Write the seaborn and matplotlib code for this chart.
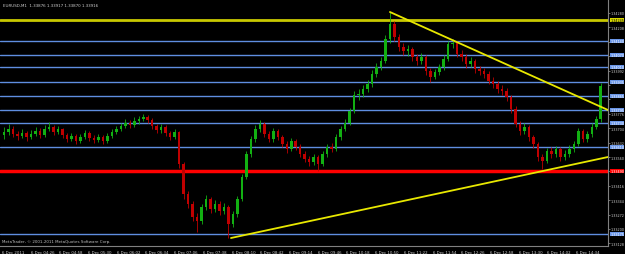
import numpy as np
import matplotlib
matplotlib.use("Agg")
import matplotlib.pyplot as plt
import matplotlib.transforms as mtransforms
import seaborn as sns

# EURUSD 6 Dec 2011, bars of 5 minutes
bar_minutes = 5
first_open = 1.33670
closes = [1.33685, 1.33700, 1.33675, 1.33665, 1.33680, 1.33660, 1.33675, 1.33690, 1.33670, 1.33700,
          1.33710, 1.33685, 1.33700, 1.33670, 1.33650, 1.33665, 1.33640, 1.33660, 1.33680, 1.33655,
          1.33645, 1.33660, 1.33640, 1.33665, 1.33685, 1.33700, 1.33715, 1.33730, 1.33720, 1.33740,
          1.33750, 1.33760, 1.33745, 1.33715, 1.33695, 1.33710, 1.33680, 1.33660, 1.33685, 1.33525,
          1.33375, 1.33325, 1.33260, 1.33240, 1.33310, 1.33350, 1.33300, 1.33325, 1.33290, 1.33310,
          1.33225, 1.33275, 1.33350, 1.33460, 1.33575, 1.33650, 1.33700, 1.33725, 1.33675, 1.33650,
          1.33690, 1.33660, 1.33625, 1.33600, 1.33640, 1.33610, 1.33575, 1.33550, 1.33535, 1.33560,
          1.33525, 1.33575, 1.33610, 1.33600, 1.33660, 1.33700, 1.33730, 1.33790, 1.33870, 1.33875,
          1.33900, 1.33925, 1.33975, 1.34010, 1.34040, 1.34150, 1.34225, 1.34160, 1.34110, 1.34090,
          1.34100, 1.34060, 1.34040, 1.34060, 1.33990, 1.33960, 1.33985, 1.34010, 1.34050, 1.34125,
          1.34130, 1.34075, 1.34060, 1.34025, 1.34040, 1.34000, 1.33990, 1.33975, 1.33940, 1.33925,
          1.33900, 1.33890, 1.33860, 1.33800, 1.33725, 1.33690, 1.33710, 1.33660, 1.33625, 1.33560,
          1.33540, 1.33590, 1.33575, 1.33600, 1.33560, 1.33575, 1.33600, 1.33625, 1.33690, 1.33650,
          1.33675, 1.33710, 1.33750, 1.33916]
highs = [1.33710, 1.33725, 1.33715, 1.33690, 1.33700, 1.33690, 1.33695, 1.33710, 1.33705, 1.33720,
         1.33735, 1.33720, 1.33715, 1.33705, 1.33680, 1.33680, 1.33675, 1.33675, 1.33695, 1.33690,
         1.33670, 1.33675, 1.33670, 1.33680, 1.33700, 1.33715, 1.33730, 1.33750, 1.33745, 1.33760,
         1.33765, 1.33775, 1.33770, 1.33755, 1.33725, 1.33725, 1.33720, 1.33690, 1.33700, 1.33690,
         1.33535, 1.33390, 1.33340, 1.33280, 1.33325, 1.33370, 1.33360, 1.33345, 1.33340, 1.33330,
         1.33320, 1.33290, 1.33365, 1.33475, 1.33590, 1.33665, 1.33720, 1.33745, 1.33735, 1.33690,
         1.33705, 1.33700, 1.33670, 1.33640, 1.33655, 1.33650, 1.33625, 1.33590, 1.33565, 1.33575,
         1.33570, 1.33590, 1.33625, 1.33630, 1.33675, 1.33715, 1.33750, 1.33805, 1.33890, 1.33900,
         1.33920, 1.33945, 1.33995, 1.34030, 1.34060, 1.34170, 1.34285, 1.34240, 1.34175, 1.34130,
         1.34120, 1.34110, 1.34075, 1.34080, 1.34070, 1.34005, 1.34000, 1.34025, 1.34070, 1.34140,
         1.34150, 1.34140, 1.34095, 1.34075, 1.34060, 1.34050, 1.34015, 1.34005, 1.33990, 1.33960,
         1.33940, 1.33920, 1.33905, 1.33870, 1.33815, 1.33740, 1.33730, 1.33720, 1.33670, 1.33635,
         1.33575, 1.33605, 1.33610, 1.33615, 1.33610, 1.33595, 1.33620, 1.33640, 1.33705, 1.33700,
         1.33690, 1.33730, 1.33765, 1.33930]
lows = [1.33650, 1.33670, 1.33660, 1.33645, 1.33655, 1.33640, 1.33650, 1.33665, 1.33655, 1.33660,
        1.33690, 1.33670, 1.33675, 1.33655, 1.33635, 1.33640, 1.33625, 1.33630, 1.33650, 1.33640,
        1.33630, 1.33635, 1.33625, 1.33630, 1.33655, 1.33675, 1.33690, 1.33705, 1.33705, 1.33710,
        1.33725, 1.33740, 1.33730, 1.33700, 1.33680, 1.33680, 1.33665, 1.33645, 1.33650, 1.33505,
        1.33350, 1.33305, 1.33240, 1.33185, 1.33225, 1.33295, 1.33280, 1.33285, 1.33270, 1.33275,
        1.33155, 1.33210, 1.33260, 1.33340, 1.33450, 1.33560, 1.33635, 1.33685, 1.33660, 1.33635,
        1.33635, 1.33645, 1.33610, 1.33580, 1.33590, 1.33595, 1.33560, 1.33535, 1.33515, 1.33520,
        1.33490, 1.33515, 1.33560, 1.33585, 1.33590, 1.33645, 1.33690, 1.33720, 1.33780, 1.33845,
        1.33860, 1.33885, 1.33910, 1.33960, 1.33995, 1.34030, 1.34130, 1.34140, 1.34090, 1.34070,
        1.34065, 1.34040, 1.34020, 1.34025, 1.33970, 1.33935, 1.33950, 1.33970, 1.33995, 1.34040,
        1.34105, 1.34060, 1.34040, 1.34005, 1.34010, 1.33980, 1.33970, 1.33955, 1.33925, 1.33905,
        1.33880, 1.33870, 1.33840, 1.33780, 1.33710, 1.33670, 1.33675, 1.33640, 1.33605, 1.33540,
        1.33500, 1.33530, 1.33555, 1.33560, 1.33540, 1.33545, 1.33560, 1.33585, 1.33615, 1.33635,
        1.33635, 1.33660, 1.33700, 1.33735]

# horizontal levels drawn on the chart
yellow_level = 1.34245
blue_levels = [1.34140, 1.34070, 1.34010, 1.33935, 1.33865, 1.33795, 1.33730, 1.33610, 1.33175]
red_level = 1.33490

# trend lines (minutes from 03:54, price)
trend_down_t = [432.5, 675.6]
trend_down_p = [1.34285, 1.33795]
trend_up_t = [255.3, 675.6]
trend_up_p = [1.33155, 1.33560]

# axis labels
x_tick_minutes = list(range(0, 641, 32))
x_tick_labels = ["6 Dec 2011", "6 Dec 04:26", "6 Dec 04:58", "6 Dec 05:30", "6 Dec 06:02",
                 "6 Dec 06:34", "6 Dec 07:06", "6 Dec 07:38", "6 Dec 08:10", "6 Dec 08:42",
                 "6 Dec 09:14", "6 Dec 09:46", "6 Dec 10:18", "6 Dec 10:50", "6 Dec 11:22",
                 "6 Dec 11:54", "6 Dec 12:26", "6 Dec 12:58", "6 Dec 13:30", "6 Dec 14:02",
                 "6 Dec 14:34"]
price_ticks = [1.34280, 1.34208, 1.34136, 1.34064, 1.33992, 1.33920, 1.33848, 1.33776, 1.33704,
               1.33632, 1.33560, 1.33488, 1.33416, 1.33344, 1.33272, 1.33200, 1.33128]

sns.set_theme(style="dark", rc={"axes.facecolor": "black", "figure.facecolor": "black",
                                "axes.edgecolor": "#808080"})

fig = plt.figure(figsize=(6.25, 2.55), dpi=100)
ax = fig.add_axes([0, 8 / 255, 608 / 625, 247 / 255])
ax.set_facecolor("black")

closes = np.array(closes)
highs = np.array(highs)
lows = np.array(lows)
opens = np.concatenate([[first_open], closes[:-1]])
times = np.arange(len(closes)) * bar_minutes + bar_minutes / 2

up = closes >= opens
colors = np.where(up, "#12b012", "#c00000")
body_lo = np.minimum(opens, closes)
body_h = np.maximum(np.abs(closes - opens), 0.00002)

# levels first, candles on top
ax.axhline(yellow_level, color="#c8c800", lw=2, zorder=1)
for lv in blue_levels:
    ax.axhline(lv, color="#5f8ee0", lw=1, zorder=1)
ax.axhline(red_level, color="#ff0000", lw=2.5, zorder=1)

ax.vlines(times, lows, highs, colors=colors, lw=0.6, zorder=2)
ax.bar(times, body_h, bottom=body_lo, width=2.8, color=colors, linewidth=0, zorder=3)

sns.lineplot(x=trend_down_t, y=trend_down_p, color="#e8e800", lw=1.3, ax=ax, zorder=4)
sns.lineplot(x=trend_up_t, y=trend_up_p, color="#e8e800", lw=1.3, ax=ax, zorder=4)

ax.set_xlim(-2.2, 675.6)
ax.set_ylim(1.33115, 1.34350)
ax.grid(False)

for side in ["left", "top"]:
    ax.spines[side].set_visible(False)
for side in ["right", "bottom"]:
    ax.spines[side].set_color("#808080")
    ax.spines[side].set_linewidth(0.8)

# price scale; labels hidden under a level box are left blank
all_levels = [yellow_level, red_level] + blue_levels
ytick_text = []
for p in price_ticks:
    covered = min(abs(p - lv) for lv in all_levels) < 0.00018
    ytick_text.append("" if covered else f"{p:.5f}")

ax.yaxis.tick_right()
ax.set_yticks(price_ticks)
ax.set_yticklabels(ytick_text, fontsize=2.45, color="#d0d0d0")
ax.set_xticks(x_tick_minutes)
ax.set_xticklabels(x_tick_labels, fontsize=2.8, color="#d0d0d0", ha="left")
ax.tick_params(axis="x", length=2, width=0.5, color="#a0a0a0", pad=0.8)
ax.tick_params(axis="y", length=1.2, width=0.5, color="#a0a0a0", pad=0.4)
ax.set_xlabel("")
ax.set_ylabel("")

# boxed price labels of the levels on the price scale
trans = mtransforms.blended_transform_factory(ax.transAxes, ax.transData)
boxes = [(yellow_level, "#d8d800", "black"), (red_level, "#ff0000", "white")]
boxes += [(lv, "#6a96e8", "white") for lv in blue_levels]
for lv, fc, tc in boxes:
    ax.text(1.0035, lv, f"{lv:.5f}", transform=trans, fontsize=2.45, color=tc, va="center",
            ha="left", clip_on=False, zorder=6,
            bbox=dict(boxstyle="square,pad=0.12", fc=fc, ec="none"))

ax.text(0.005, 0.985, "EURUSD,M1  1.33876 1.33917 1.33870 1.33916", transform=ax.transAxes,
        fontsize=2.9, color="#d0d0d0", va="top", ha="left")
ax.text(0.003, 0.012, "MetaTrader, \u00a9 2001-2011 MetaQuotes Software Corp.", transform=ax.transAxes,
        fontsize=2.9, color="#c0c0c0", va="bottom", ha="left")

fig.savefig("out.png", dpi=100, facecolor="black")
